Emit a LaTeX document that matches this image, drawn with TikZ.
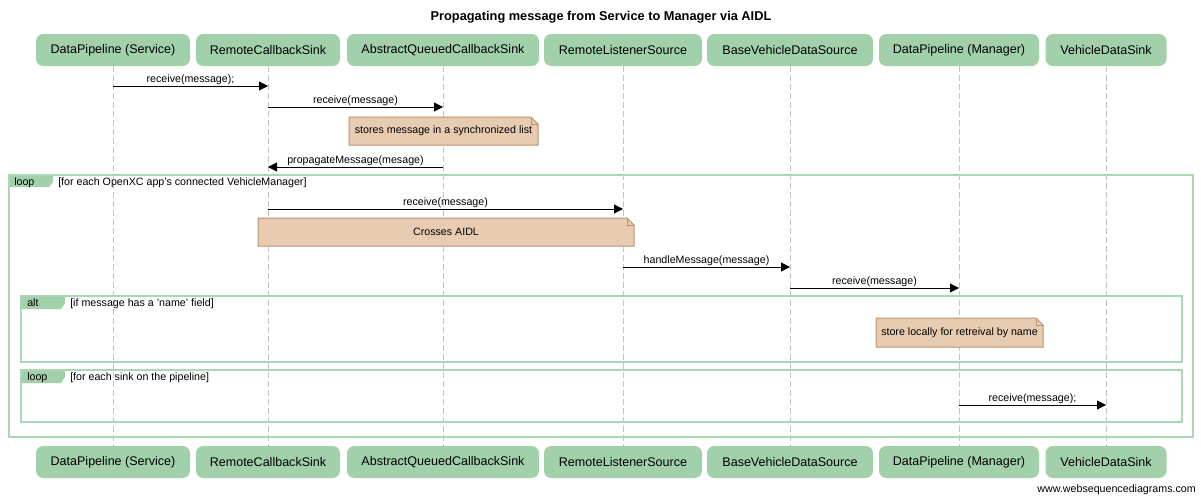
\documentclass[tikz,border=0pt]{standalone}
\usepackage{fontspec}
\setmainfont{Liberation Sans}
\usetikzlibrary{arrows.meta}
\definecolor{pgreen}{RGB}{161,208,170}
\definecolor{fgreen}{RGB}{170,215,180}
\definecolor{notefill}{RGB}{232,204,178}
\definecolor{noteline}{RGB}{186,146,108}
\definecolor{lifegrey}{RGB}{195,195,195}
\newcommand\notebg[4]{%
  \filldraw[notestyle] (#1,#2) -- (#3-7,#2) -- (#3,#2+7) -- (#3,#4) -- (#1,#4) -- cycle;
  \draw[notestyle,fill=none] (#3-7,#2) -- (#3-7,#2+7) -- (#3,#2+7);}
\newcommand\fragtab[3]{% x y name-of-frame
  \fill[pgreen] (#1,#2) -- (#1+44,#2) -- (#1+44,#2+7) -- (#1+40,#2+#3) -- (#1,#2+#3) -- cycle;}
\begin{document}
\begin{tikzpicture}[x=0.75pt,y=-0.75pt,
  part/.style={fill=pgreen, rounded corners=5.5pt, minimum height=24pt, inner sep=0pt,
    font=\fontsize{9.4}{11}\selectfont},
  life/.style={draw=lifegrey, line width=0.75pt, dash pattern=on 4.5pt off 2.25pt},
  msg/.style={draw=black, line width=0.75pt, -{Triangle[length=6.75pt,width=6.75pt]}},
  mlab/.style={font=\fontsize{8}{9.6}\selectfont, anchor=base, inner sep=0pt, yshift=2.6pt},
  notestyle/.style={fill=notefill, draw=noteline, line width=0.75pt},
  notetext/.style={font=\fontsize{8}{9.6}\selectfont, inner sep=0pt},
  frame/.style={draw=fgreen, line width=1.3pt},
  ftext/.style={font=\fontsize{8}{9.6}\selectfont, anchor=base west, inner sep=0pt},
]
\useasboundingbox (0,0) rectangle (1201,496);
% title
\node[font=\bfseries\fontsize{9.6}{11.5}\selectfont] (title) at (601,17) {Propagating message from Service to Manager via AIDL};
% participants (top)
\node[part, minimum width=154*0.75pt] (t1) at (113,50) {DataPipeline (Service)};
\node[part, minimum width=144*0.75pt] (t2) at (268,50) {RemoteCallbackSink};
\node[part, minimum width=192*0.75pt] (t3) at (443,50) {AbstractQueuedCallbackSink};
\node[part, minimum width=158*0.75pt] (t4) at (623,50) {RemoteListenerSource};
\node[part, minimum width=166*0.75pt] (t5) at (790,50) {BaseVehicleDataSource};
\node[part, minimum width=160*0.75pt] (t6) at (959,50) {DataPipeline (Manager)};
\node[part, minimum width=121*0.75pt] (t7) at (1106,50) {VehicleDataSink};
% participants (bottom)
\node[part, minimum width=154*0.75pt] (b1) at (113,462) {DataPipeline (Service)};
\node[part, minimum width=144*0.75pt] (b2) at (268,462) {RemoteCallbackSink};
\node[part, minimum width=192*0.75pt] (b3) at (443,462) {AbstractQueuedCallbackSink};
\node[part, minimum width=158*0.75pt] (b4) at (623,462) {RemoteListenerSource};
\node[part, minimum width=166*0.75pt] (b5) at (790,462) {BaseVehicleDataSource};
\node[part, minimum width=160*0.75pt] (b6) at (959,462) {DataPipeline (Manager)};
\node[part, minimum width=121*0.75pt] (b7) at (1106,462) {VehicleDataSink};
% lifelines
\foreach \i in {1,...,7} { \draw[life] (t\i.south) -- (b\i.north); }
% frames
\fragtab{9}{175}{12}
\draw[frame] (9,175) rectangle (1193,437);
\node[ftext] (fl1) at (14,185) {loop};
\node[ftext] (fc1) at (58,185) {[for each OpenXC app's connected VehicleManager]};
\fragtab{21}{296}{13}
\draw[frame] (21,296) rectangle (1182,362);
\node[ftext] (fl2) at (27,306.5) {alt};
\node[ftext] (fc2) at (70,306.5) {[if message has a 'name' field]};
\fragtab{21}{370}{13}
\draw[frame] (21,370) rectangle (1182,422);
\node[ftext] (fl3) at (27,380.5) {loop};
\node[ftext] (fc3) at (70,380.5) {[for each sink on the pipeline]};
% messages
\draw[msg] (t1.south |- 0,86) -- node[mlab] {receive(message);} (t2.south |- 0,86);
\draw[msg] (t2.south |- 0,107) -- node[mlab] {receive(message)} (t3.south |- 0,107);
\notebg{349}{117}{538}{145}
\node[notetext] (n1) at (443.5,131) {stores message in a synchronized list};
\draw[msg] (t3.south |- 0,167) -- node[mlab] {propagateMessage(mesage)} (t2.south |- 0,167);
\draw[msg] (t2.south |- 0,209) -- node[mlab] {receive(message)} (t4.south |- 0,209);
\notebg{258}{218}{634}{246}
\node[notetext] (n2) at (446,232) {Crosses AIDL};
\draw[msg] (t4.south |- 0,267) -- node[mlab] {handleMessage(message)} (t5.south |- 0,267);
\draw[msg] (t5.south |- 0,288) -- node[mlab] {receive(message)} (t6.south |- 0,288);
\notebg{876}{318}{1043}{347}
\node[notetext] (n3) at (959.5,332.5) {store locally for retreival by name};
\draw[msg] (t6.south |- 0,405) -- node[mlab] {receive(message);} (t7.south |- 0,405);
% footer
\node[font=\fontsize{8}{9.6}\selectfont, anchor=base east, inner sep=0pt] (foot) at (1196,492) {www.websequencediagrams.com};
\end{tikzpicture}
\end{document}
